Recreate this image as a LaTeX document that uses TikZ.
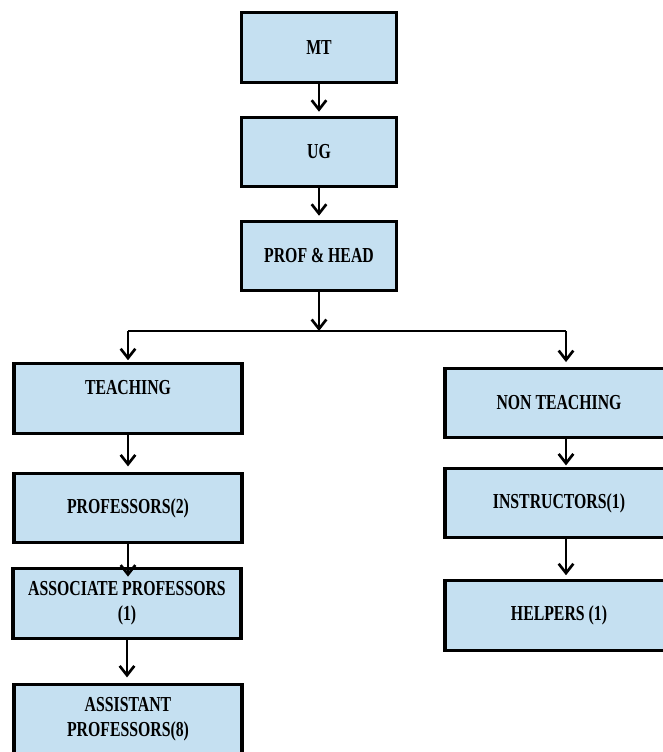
\documentclass[tikz,border=0pt]{standalone}
\usepackage{fontspec}
\newfontfamily\chartfont[FakeStretch=0.74]{Liberation Serif}
\usepackage{tikz}
\usetikzlibrary{arrows.meta}
\definecolor{boxblue}{RGB}{197,224,241}
\tikzset{>={Straight Barb[length=7pt,width=11pt]},
  post/.style={draw=black,line width=2.4pt,fill=boxblue,
    minimum width=171pt,minimum height=52pt,inner sep=0pt,align=center,
    font=\chartfont\bfseries\fontsize{16}{18.5}\selectfont},
  toppost/.style={post,minimum width=116pt},
  link/.style={->,line width=2pt}}

\begin{document}
\begin{tikzpicture}[x=0.75pt,y=-0.75pt]
        \useasboundingbox (0,0) rectangle (662,752);

        \node[toppost] (mt) at (319,47.5) {MT};
        \node[toppost] (ug) at (319,152) {UG};
        \node[toppost] (head) at (319,256) {PROF \& HEAD};

        \node[post,text depth=16.5pt] (teach) at (128,398.5) {TEACHING};
        \node[post] (prof) at (128,508) {PROFESSORS(2)};
        \node[post] (assoc) at (127,603.5) {ASSOCIATE PROFESSORS\\(1)};
        \node[post] (assist) at (128,719) {ASSISTANT\\PROFESSORS(8)};

        \node[post] (nonteach) at (559,403) {NON TEACHING};
        \node[post] (instr) at (559,503) {INSTRUCTORS(1)};
        \node[post] (helper) at (559,615.5) {HELPERS (1)};

        \coordinate (split) at (319,331);
        \coordinate (lturn) at (128,331);
        \coordinate (rturn) at (566,331);

        \draw[link,shorten >=3pt] (mt) -- (ug);
        \draw[link,shorten >=3pt] (ug) -- (head);
        \draw[link] (head) -- (split);
        \draw[line width=2.2pt] (lturn) -- (rturn);
        \draw[link,shorten >=1.5pt] (lturn) -- (lturn |- teach.north);
        \draw[link,shorten >=3.5pt] (rturn) -- (rturn |- nonteach.north);

        \draw[link,shorten >=4pt] (teach) -- (prof);
        \draw[link,shorten >=-7pt] (prof.south) -- (prof.south |- assoc.north);
        \draw[link,shorten >=4pt] (assoc.south) -- (assoc.south |- assist.north);

        \draw[link,shorten >=1pt] ([xshift=5.25pt]nonteach.south) -- ([xshift=5.25pt]instr.north);
        \draw[link,shorten >=3pt] ([xshift=5.25pt]instr.south) -- ([xshift=5.25pt]helper.north);
      \end{tikzpicture}
\end{document}
